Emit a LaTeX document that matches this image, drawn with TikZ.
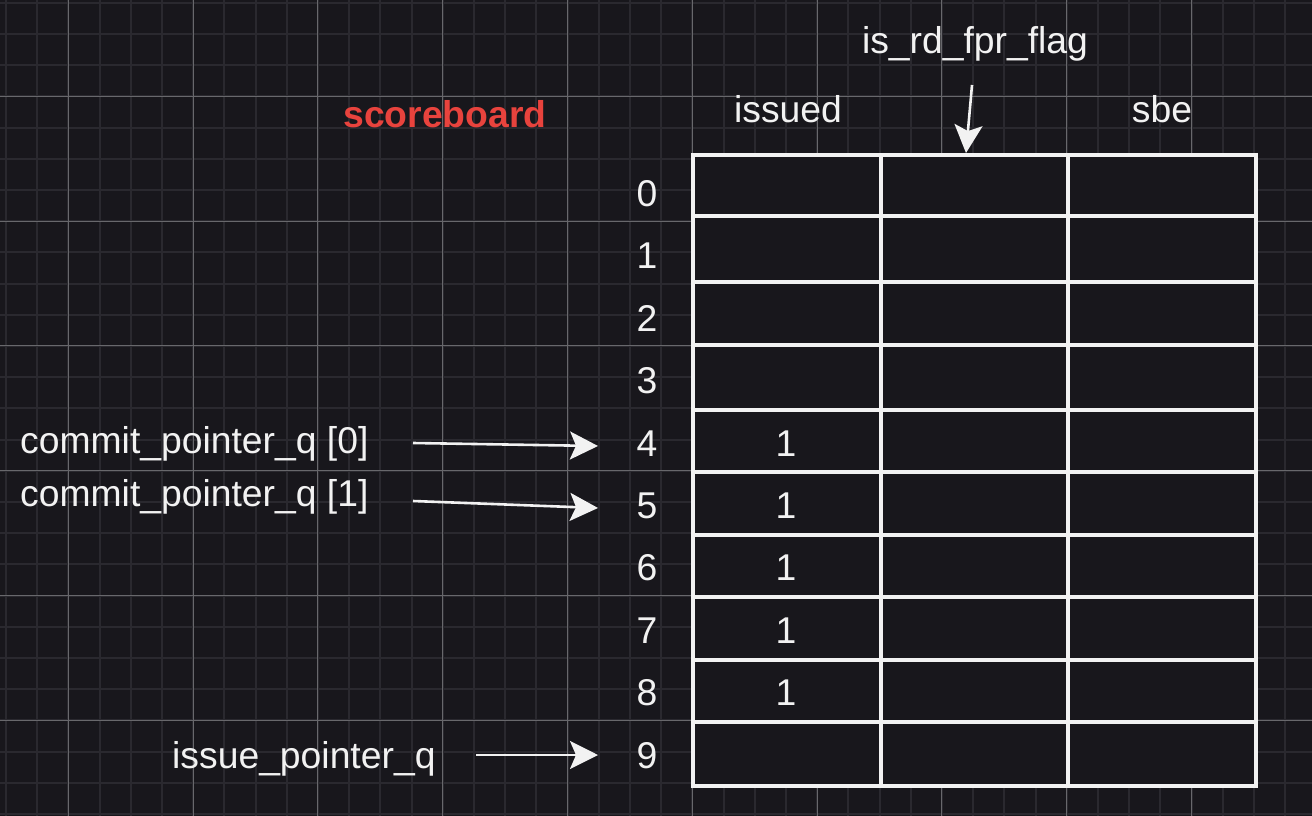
\documentclass[tikz,border=0pt]{standalone}
\usepackage{fontspec}
\setmainfont{Liberation Sans}
\usetikzlibrary{arrows.meta}
\definecolor{bg}{HTML}{18171C}
\definecolor{minorg}{HTML}{2A292F}
\definecolor{majorg}{HTML}{68686C}
\definecolor{fg}{HTML}{F2F2F2}
\definecolor{redt}{HTML}{E8433D}
\begin{document}
\begin{tikzpicture}[x=1pt,y=-1pt,
  lbl/.style={text=fg, font=\fontsize{37.3}{44}\selectfont, inner sep=0, anchor=base},
  cellbox/.style={draw=fg, line width=3.2pt, fill=bg, inner sep=0, outer sep=0},
  arr/.style={draw=fg, line width=2.6pt, -{Stealth[length=28pt,width=28pt,inset=6pt]}}]
\useasboundingbox (0,0) rectangle (1312,816);
\fill[bg] (0,0) rectangle (1312,816);
% grid
\foreach \i in {0,...,41} \draw[minorg, line width=2pt] ({5.9+31.2*\i},0) -- ({5.9+31.2*\i},816);
\foreach \i in {0,...,26} \draw[minorg, line width=2pt] (0,{2.7+31.2*\i}) -- (1312,{2.7+31.2*\i});
\foreach \i in {0,...,9} \draw[majorg, line width=1pt] ({68.3+124.8*\i},0) -- ({68.3+124.8*\i},816);
\foreach \i in {0,...,5} \draw[majorg, line width=1pt] (0,{96.3+124.8*\i}) -- (1312,{96.3+124.8*\i});
% table cells
\foreach \r/\t/\b in {0/155/216,1/216/282,2/282/345,3/345/410,4/410/472,5/472/535,6/535/597,7/597/660,8/660/722,9/722/786}{
  \foreach \c/\xa/\xb in {0/693/881,1/881/1068,2/1068/1256}{
    \node[cellbox, minimum width={(\xb-\xa)*1pt}, minimum height={(\b-\t)*1pt}] (cell\r\c) at ({(\xa+\xb)/2},{(\t+\b)/2}) {};
  }
}
% headers
\node[lbl] (hIssued) at (788,122.5) {issued};
\node[lbl] (hSbe) at (1162,122.5) {sbe};
\node[lbl] (hFlag) at (975,53.5) {is\_rd\_fpr\_flag};
\node[lbl, text=redt, font=\fontsize{37.3}{44}\selectfont\bfseries] (title) at (445,127.5) {scoreboard};
% row numbers
\foreach \i in {0,...,9} \node[lbl] (d\i) at (647,{206.4+62.4*\i}) {\i};
\foreach \i in {4,...,8} \node[lbl] (one\i) at (786,{206.4+62.4*\i}) {1};
% pointer labels
\node[lbl, anchor=base west] (cp0) at (20,453) {commit\_pointer\_q [0]};
\node[lbl, anchor=base west] (cp1) at (20,506) {commit\_pointer\_q [1]};
\node[lbl, anchor=base west] (ip) at (172,768) {issue\_pointer\_q};
% arrows
\coordinate (cp0s) at (413,443);
\coordinate (cp0e) at (598,446);
\coordinate (cp1s) at (413,501);
\coordinate (cp1e) at (598,508);
\coordinate (ips) at (476,755);
\coordinate (ipe) at (598,755);
\coordinate (fls) at (972,85);
\coordinate (fle) at (966,153);
\draw[arr] (cp0s) -- (cp0e);
\draw[arr] (cp1s) -- (cp1e);
\draw[arr] (ips) -- (ipe);
\draw[arr] (fls) -- (fle);
\end{tikzpicture}
\end{document}
